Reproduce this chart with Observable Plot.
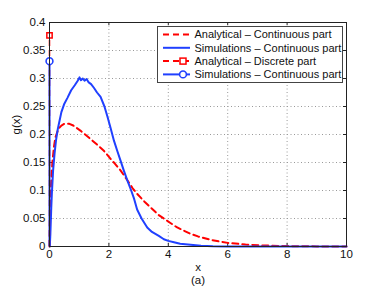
<!DOCTYPE html>
<html>
<head>
<meta charset="utf-8">
<script src="https://cdn.jsdelivr.net/npm/d3@7"></script>
<script src="https://cdn.jsdelivr.net/npm/@observablehq/plot@0.6"></script>
<style>
  html, body { margin: 0; padding: 0; background: #fff; }
  #chart { width: 382px; height: 287px; }
</style>
</head>
<body>
<div id="chart"></div>
<script>
// ---- data ----
const xTicks = [0, 2, 4, 6, 8, 10];
const yTicks = [0, 0.05, 0.1, 0.15, 0.2, 0.25, 0.3, 0.35, 0.4];

// Analytical – continuous part (red dashed)
const anaX = [0, 0.02, 0.05, 0.1, 0.15, 0.2, 0.3, 0.4, 0.5, 0.67, 0.8, 1.04, 1.2, 1.38, 1.6, 1.83, 2.05, 2.2, 2.39, 2.6, 2.8, 2.95, 3.2, 3.46, 3.68, 4.07, 4.3, 4.75, 5.0, 5.42, 6.0, 6.6, 7.2, 8, 9, 10];
const anaY = [0, 0.06, 0.11, 0.152, 0.178, 0.195, 0.21, 0.216, 0.219, 0.219, 0.216, 0.207, 0.2, 0.192, 0.182, 0.171, 0.157, 0.148, 0.136, 0.12, 0.104, 0.094, 0.08, 0.067, 0.056, 0.042, 0.034, 0.0226, 0.018, 0.012, 0.0065, 0.0035, 0.0018, 0.0007, 0.0002, 0];

// Simulations – continuous part (blue solid)
const simX = [0.01, 0.03, 0.06, 0.08, 0.12, 0.17, 0.22, 0.28, 0.34, 0.4, 0.5, 0.6, 0.73, 0.85, 0.95, 1.01, 1.06, 1.12, 1.18, 1.25, 1.32, 1.4, 1.5, 1.6, 1.72, 1.85, 1.95, 2.05, 2.17, 2.28, 2.4, 2.5, 2.62, 2.75, 2.85, 2.95, 3.1, 3.29, 3.45, 3.68, 3.85, 4.0, 4.19, 4.4, 4.75, 5.1, 5.5, 6, 7, 8, 9, 10];
const simY = [0, 0.023, 0.07, 0.095, 0.135, 0.166, 0.19, 0.21, 0.225, 0.24, 0.255, 0.265, 0.279, 0.288, 0.296, 0.302, 0.297, 0.3, 0.296, 0.299, 0.293, 0.29, 0.283, 0.275, 0.267, 0.25, 0.232, 0.213, 0.189, 0.171, 0.152, 0.136, 0.118, 0.1, 0.085, 0.066, 0.05, 0.034, 0.026, 0.019, 0.013, 0.01, 0.0077, 0.005, 0.003, 0.0013, 0.0005, 0.0002, 0, 0, 0, 0];

// Discrete parts (stems at x = 0)
const discreteX = [0];
const anaDiscreteY = [0.377];
const simDiscreteY = [0.331];

const legendLabels = [
  "Analytical \u2013 Continuous part",
  "Simulations \u2013 Continuous part",
  "Analytical \u2013 Discrete part",
  "Simulations \u2013 Continuous part"
];
const xLabel = "x";
const yLabel = "g(x)";
const caption = "(a)";

// ---- build ----
const RED = "#ff0000";
const BLUE = "#2040ff";
const W = 382, H = 287;
const mTop = 22, mLeft = 49, mRight = 36, mBottom = 41;
const plotH = H - mTop - mBottom;
const plotW = W - mLeft - mRight;

const ana = anaX.map((x, i) => ({x, y: anaY[i]}));
const sim = simX.map((x, i) => ({x, y: simY[i]}));
const anaDisc = discreteX.map((x, i) => ({x, y: anaDiscreteY[i]}));
const simDisc = discreteX.map((x, i) => ({x, y: simDiscreteY[i]}));
const innerX = xTicks.slice(1, -1);
const innerY = yTicks.slice(1, -1);
const fmt = d => String(+d.toFixed(2));

const chart = Plot.plot({
  width: W,
  height: H,
  marginTop: mTop,
  marginLeft: mLeft,
  marginRight: mRight,
  marginBottom: mBottom,
  style: {fontFamily: "'Liberation Sans', Arial, sans-serif", fontSize: "11px", color: "#111", background: "#fff"},
  x: {domain: [0, 10]},
  y: {domain: [0, 0.4]},
  marks: [
    Plot.gridX(innerX, {stroke: "#999", strokeOpacity: 1, strokeDasharray: "1,2.5"}),
    Plot.gridY(innerY, {stroke: "#999", strokeOpacity: 1, strokeDasharray: "1,2.5"}),
    // inward ticks (bottom/top/left/right)
    Plot.tickX(xTicks, {x: d => d, insetTop: plotH - 3, stroke: "#222"}),
    Plot.tickX(xTicks, {x: d => d, insetBottom: plotH - 3, stroke: "#222"}),
    Plot.tickY(yTicks, {y: d => d, insetRight: plotW - 3, stroke: "#222"}),
    Plot.tickY(yTicks, {y: d => d, insetLeft: plotW - 3, stroke: "#222"}),
    Plot.axisX(xTicks, {tickSize: 0, tickPadding: 3.5, tickFormat: fmt, label: null, fontSize: 11.5}),
    Plot.axisY(yTicks, {tickSize: 0, tickPadding: 4, tickFormat: fmt, label: null, fontSize: 11.5}),
    Plot.lineY(ana, {x: "x", y: "y", stroke: RED, strokeWidth: 2, strokeDasharray: "6,4"}),
    Plot.lineY(sim, {x: "x", y: "y", stroke: BLUE, strokeWidth: 2}),
    Plot.ruleX(anaDisc, {x: "x", y1: 0, y2: "y", stroke: RED, strokeWidth: 1.5, strokeDasharray: "6,4"}),
    Plot.dot(anaDisc, {x: "x", y: "y", symbol: "square", r: 3, stroke: RED, strokeWidth: 1.5, fill: "#fff"}),
    Plot.ruleX(simDisc, {x: "x", y1: 0, y2: "y", stroke: BLUE, strokeWidth: 2}),
    Plot.dot(simDisc, {x: "x", y: "y", r: 3.4, stroke: BLUE, strokeWidth: 1.6, fill: "#fff"}),
    Plot.frame({stroke: "#222"}),
    Plot.text([xLabel], {text: d => d, frameAnchor: "bottom", dy: 21, lineAnchor: "middle", fontSize: 11.5}),
    Plot.text([caption], {text: d => d, frameAnchor: "bottom", dy: 34, lineAnchor: "middle", fontSize: 11.5}),
    Plot.text([yLabel], {text: d => d, frameAnchor: "left", dx: -33, rotate: -90, lineAnchor: "middle", fontSize: 11.5})
  ]
});
document.getElementById("chart").appendChild(chart);

// ---- legend box (MATLAB style) ----
const svg = d3.select(chart);
const lg = svg.append("g").attr("class", "legend").attr("text-anchor", "start");
const bx = 157, by = 26, bw = 185, bh = 56;
lg.append("rect").attr("x", bx + 0.5).attr("y", by + 0.5).attr("width", bw).attr("height", bh)
  .attr("fill", "#fff").attr("stroke", "#444").attr("stroke-width", 1);
const styles = [
  {color: RED, dash: "6,4", marker: null},
  {color: BLUE, dash: null, marker: null},
  {color: RED, dash: "6,4", marker: "square"},
  {color: BLUE, dash: null, marker: "circle"}
];
legendLabels.forEach((label, i) => {
  const cy = 34.5 + i * 13.3;
  const s = styles[i];
  lg.append("line").attr("x1", 163).attr("x2", 190).attr("y1", cy).attr("y2", cy)
    .attr("stroke", s.color).attr("stroke-width", 2).attr("stroke-dasharray", s.dash);
  if (s.marker === "square") {
    lg.append("rect").attr("x", 180).attr("y", cy - 3).attr("width", 6).attr("height", 6)
      .attr("fill", "#fff").attr("stroke", s.color).attr("stroke-width", 1.5);
  } else if (s.marker === "circle") {
    lg.append("circle").attr("cx", 183).attr("cy", cy).attr("r", 3.4)
      .attr("fill", "#fff").attr("stroke", s.color).attr("stroke-width", 1.6);
  }
  lg.append("text").attr("x", 194.5).attr("y", cy).attr("dy", "0.35em")
    .attr("text-anchor", "start")
    .attr("font-size", 11).attr("fill", "#111").text(label);
});
</script>
</body>
</html>
